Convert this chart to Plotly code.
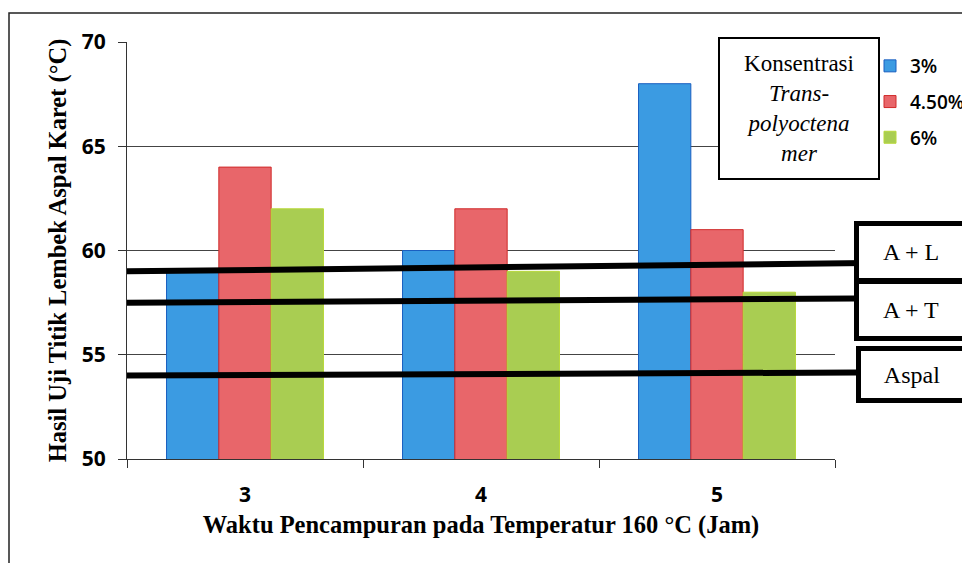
import plotly.graph_objects as go

# ---- data ----
categories = ["3", "4", "5"]
series_names = ["3%", "4.50%", "6%"]
vals_3 = [59, 60, 68]
vals_45 = [64, 62, 61]
vals_6 = [62, 59, 58]
y_ticks = [50, 55, 60, 65, 70]

ref_labels = ["A + L", "A + T", "Aspal"]
ref_left = [59.0, 57.5, 54.0]
ref_right = [59.4, 57.7, 54.15]

fill_colors = ["#3b9be2", "#e8666a", "#a9cd52"]
edge_colors = ["#1a5fc0", "#d02a2a", "#b8d83a"]

OFF = 8  # page body margin
W, H = 970 - OFF, 563 - OFF
# plot area in page pixels
PX_L, PX_R, PX_T, PX_B = 127, 835, 42, 459
L, T = PX_L - OFF, PX_T - OFF
R, B = 970 - PX_R, 563 - PX_B
PW, PH = PX_R - PX_L, PX_B - PX_T


def px2x(px):
    return (px - PX_L) / PW


def py2y(py):
    return (PX_B - py) / PH


fig = go.Figure()
for name, vals, fc, ec in zip(series_names, [vals_3, vals_45, vals_6], fill_colors, edge_colors):
    fig.add_trace(go.Bar(
        x=categories, y=vals, name=name, legendgroup=name,
        marker=dict(color=fc, line=dict(color=ec, width=1)),
    ))

shapes = []
# outer frame
shapes.append(dict(type="rect", xref="paper", yref="paper",
                   x0=px2x(9), x1=px2x(990), y0=py2y(13), y1=py2y(600),
                   line=dict(color="#222", width=1.5), layer="below"))

# reference lines
line_ends_px = [867, 855, 857]
for lab, yl, yr, xe in zip(ref_labels, ref_left, ref_right, line_ends_px):
    shapes.append(dict(type="line", xref="paper", yref="y",
                       x0=0, x1=px2x(xe), y0=yl, y1=yr,
                       line=dict(color="black", width=6), layer="above"))

annotations = []
# legend title box
annotations.append(dict(
    xref="paper", yref="paper", x=px2x(799), y=py2y(108.5),
    xanchor="center", yanchor="middle", showarrow=False,
    text="Konsentrasi<br><i>Trans-</i><br><i>polyoctena</i><br><i>mer</i>",
    font=dict(family="Liberation Serif", size=23, color="black"),
    align="center", width=156, height=137,
    bordercolor="black", borderwidth=2, borderpad=1, bgcolor="white",
))

# reference line label boxes
box_specs = [  # (center_x_px, center_y_px, width, height)
    (911, 252, 104, 52),
    (911, 310, 104, 52),
    (912, 374.5, 102, 47),
]
for lab, (cx, cy, bw, bh) in zip(ref_labels, box_specs):
    annotations.append(dict(
        xref="paper", yref="paper", x=px2x(cx), y=py2y(cy),
        xanchor="center", yanchor="middle", showarrow=False,
        text=lab, font=dict(family="Liberation Serif", size=24, color="black"),
        width=bw, height=bh, bordercolor="black", borderwidth=5, borderpad=0,
        bgcolor="white",
    ))

fig.update_layout(
    width=W, height=H,
    margin=dict(l=L, r=R, t=T, b=B, autoexpand=False),
    paper_bgcolor="white", plot_bgcolor="white",
    barmode="group", bargap=0.335, bargroupgap=0,
    showlegend=True,
    legend=dict(
        x=px2x(870), y=py2y(47), xanchor="left", yanchor="top",
        font=dict(family="Open Sans", size=19, color="black", weight=600),
        bgcolor="rgba(0,0,0,0)", tracegroupgap=8,
    ),
    shapes=shapes,
    annotations=annotations,
    xaxis=dict(
        type="category", showline=True, linecolor="#333", linewidth=1,
        ticks="outside", tickson="boundaries", ticklen=8, tickcolor="#333",
        tickfont=dict(family="Open Sans", size=21, color="black", weight="bold"),
        ticklabelstandoff=17,
        title=dict(text="Waktu Pencampuran pada Temperatur 160 °C (Jam)",
                   font=dict(family="Liberation Serif", size=24.5, color="black", weight="bold"),
                   standoff=8),
        showgrid=False,
    ),
    yaxis=dict(
        range=[50, 70], tickvals=y_ticks, showline=True, linecolor="#333", linewidth=1,
        ticks="outside", ticklen=8, tickcolor="#333",
        showgrid=True, gridcolor="#444", gridwidth=1, zeroline=False,
        tickfont=dict(family="Open Sans", size=21, color="black", weight="bold"),
        ticklabelstandoff=8,
        title=dict(text="Hasil Uji Titik Lembek Aspal Karet (°C)",
                   font=dict(family="Liberation Serif", size=24.5, color="black", weight="bold"),
                   standoff=8),
    ),
)

fig.write_html("out.html")
